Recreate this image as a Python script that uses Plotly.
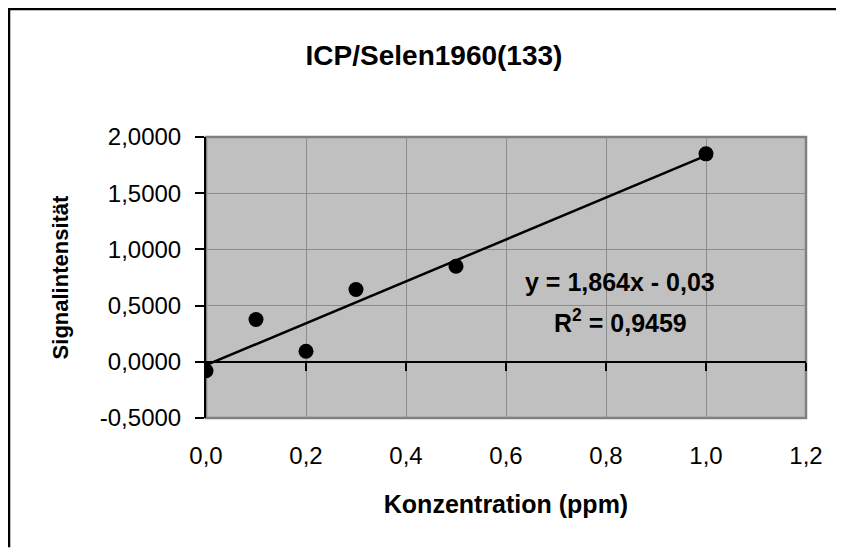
import plotly.graph_objects as go

# Kalibrierdaten ICP / Selen
konzentration = [0.0, 0.1, 0.2, 0.3, 0.5, 1.0]
signal = [-0.08, 0.376, 0.094, 0.643, 0.85, 1.85]

# lineare Regression (wie im Diagramm angegeben)
slope = 1.864
intercept = -0.03
trend_x = [0.0, 1.0]
trend_y = [slope * x + intercept for x in trend_x]

x_ticks = [0.0, 0.2, 0.4, 0.6, 0.8, 1.0, 1.2]
y_ticks = [-0.5, 0.0, 0.5, 1.0, 1.5, 2.0]

FONT = "Liberation Sans, Arial, sans-serif"


def de(v, digits):
    return f"{v:.{digits}f}".replace(".", ",")


fig = go.Figure()

fig.add_trace(go.Scatter(
    x=trend_x,
    y=trend_y,
    mode="lines",
    line=dict(color="black", width=2.5),
    xaxis="x2",
    yaxis="y",
    showlegend=False,
))

fig.add_trace(go.Scatter(
    x=konzentration,
    y=signal,
    mode="markers",
    marker=dict(color="black", size=15),
    showlegend=False,
))

# plot area frame (grey)
fig.add_shape(
    type="rect", xref="x domain", yref="y domain",
    x0=0, x1=1, y0=0, y1=1,
    line=dict(color="#808080", width=2.5),
    layer="below",
)

# outer chart border (only top and left visible), kept inside the figure
fig.add_shape(type="line", xref="paper", yref="paper",
              x0=-0.33, x1=1.05, y0=1.4555, y1=1.4555,
              line=dict(color="black", width=2.5))
fig.add_shape(type="line", xref="paper", yref="paper",
              x0=-0.3283, x1=-0.3283, y0=-0.46, y1=1.46,
              line=dict(color="black", width=2.5))

fig.add_annotation(
    x=0.828, y=0.714, xref="x", yref="y",
    text="<b>y = 1,864x - 0,03</b>",
    showarrow=False,
    font=dict(family=FONT, size=25, color="black"),
)
fig.add_annotation(
    x=0.828, y=0.367, xref="x", yref="y",
    text="<b>R<sup>2</sup> = 0,9459</b>",
    showarrow=False,
    font=dict(family=FONT, size=25, color="black"),
)

fig.update_layout(
    width=831,
    height=542,
    margin=dict(l=198, r=33, t=129, b=132),
    paper_bgcolor="white",
    plot_bgcolor="#C0C0C0",
    font=dict(family=FONT, color="black"),
    title=dict(
        text="<b>ICP/Selen1960(133)</b>",
        x=426 / 831, xref="container", xanchor="center",
        y=1 - 47 / 542, yref="container", yanchor="middle",
        font=dict(family=FONT, size=28, color="black"),
    ),
    xaxis=dict(
        range=[0, 1.2],
        tickvals=x_ticks,
        ticktext=[de(v, 1) for v in x_ticks],
        ticks="",
        showline=False,
        showgrid=True,
        gridcolor="#8c8c8c",
        gridwidth=1,
        zeroline=False,
        tickfont=dict(size=24),
        ticklabelstandoff=21,
        title=dict(text="<b>Konzentration (ppm)</b>", font=dict(size=25), standoff=27),
    ),
    xaxis2=dict(
        overlaying="x",
        range=[0, 1.2],
        tickvals=x_ticks,
        anchor="free",
        position=0.2,
        side="bottom",
        ticks="outside",
        ticklen=8,
        tickwidth=1.5,
        tickcolor="black",
        showticklabels=False,
        showgrid=False,
        zeroline=False,
        showline=False,
    ),
    yaxis=dict(
        range=[-0.5, 2.0],
        tickvals=y_ticks,
        ticktext=[de(v, 4) for v in y_ticks],
        ticks="outside",
        ticklen=9,
        tickwidth=1.5,
        tickcolor="black",
        showline=True,
        linecolor="black",
        linewidth=2,
        showgrid=True,
        gridcolor="#8c8c8c",
        gridwidth=1,
        zeroline=True,
        zerolinecolor="black",
        zerolinewidth=1.5,
        tickfont=dict(size=24),
        ticklabelstandoff=9,
        title=dict(text="<b>Signalintensität</b>", font=dict(size=22), standoff=25),
    ),
)

fig.write_html("out.html")
